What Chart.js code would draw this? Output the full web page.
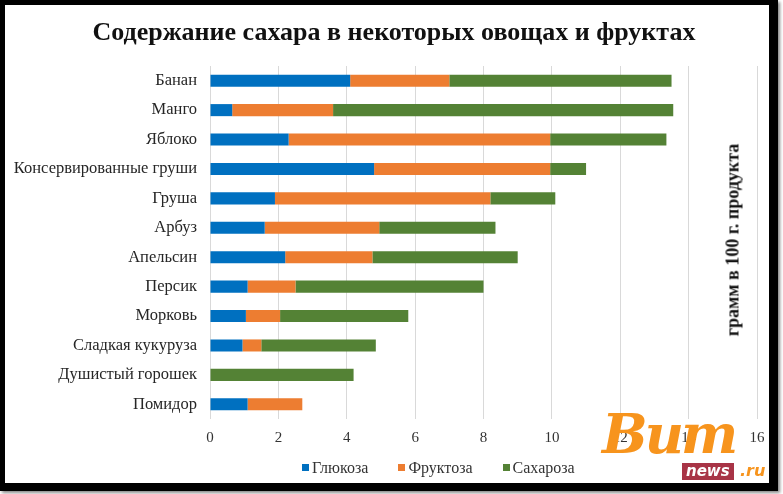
<!DOCTYPE html>
<html lang="ru">
<head>
<meta charset="utf-8">
<title>Содержание сахара</title>
<script src="https://cdn.jsdelivr.net/npm/chart.js@4.4.1/dist/chart.umd.min.js"></script>
<style>
  html, body { margin: 0; padding: 0; background: #fff; }
  .wrap { position: relative; width: 783px; height: 494px; overflow: hidden; background: #fff; }
  .wrap canvas { position: absolute; left: 0; top: 0; }
  .frame {
    position: absolute; left: 0; top: 0; width: 778px; height: 491px; box-sizing: border-box;
    border: 5px solid #000; border-right-width: 9px; border-bottom-width: 8px;
    box-shadow: 2px 2px 3px #888; pointer-events: none;
  }
  .title {
    position: absolute; left: 0; top: 17px; width: 788px; text-align: center;
    font: bold 26px 'Liberation Serif', serif; color: #111;
  }
  .ytitle {
    position: absolute; left: 733px; top: 240px; transform: translate(-50%, -50%) rotate(-90deg);
    white-space: nowrap; font: bold 18px 'Liberation Serif', serif; color: #111;
  }
  .legend {
    position: absolute; left: 302px; top: 459px; display: flex; gap: 30px;
    font: 16px 'Liberation Serif', serif; color: #333;
  }
  .legend span.box { display: inline-block; width: 7px; height: 7px; margin-right: 3px; vertical-align: 2px; }
  .logo { position: absolute; left: 600px; top: 396px; width: 150px; height: 90px; pointer-events: none; }
  .logo .bum { position: absolute; left: 2px; top: 6px; font: italic bold 54px 'DejaVu Serif', serif; color: #f7941d; letter-spacing: -3px; }
  .logo .news { position: absolute; left: 82px; top: 67px; background: #a83446; color: #fff; font: italic bold 15px 'DejaVu Sans', sans-serif; padding: 0 4px; line-height: 17px; }
  .logo .ru { position: absolute; left: 140px; top: 65px; color: #f7941d; font: italic bold 16px 'DejaVu Sans', sans-serif; }
</style>
</head>
<body>
<div class="wrap">
  <canvas id="sugarChart" width="783" height="494"></canvas>
  <div class="title">Содержание сахара в некоторых овощах и фруктах</div>
  <div class="ytitle">грамм в 100 г. продукта</div>
  <div class="legend" id="legend"></div>
  <div class="logo"><span class="bum">Bum</span><span class="news">news</span><span class="ru">.ru</span></div>
  <div class="frame"></div>
</div>
<script>
const categories = ['Банан', 'Манго', 'Яблоко', 'Консервированные груши', 'Груша', 'Арбуз',
  'Апельсин', 'Персик', 'Морковь', 'Сладкая кукуруза', 'Душистый горошек', 'Помидор'];
const glucose = [4.1, 0.65, 2.3, 4.8, 1.9, 1.6, 2.2, 1.1, 1.05, 0.95, 0, 1.1];
const fructose = [2.9, 2.95, 7.65, 5.15, 6.3, 3.35, 2.55, 1.4, 1.0, 0.55, 0, 1.6];
const sucrose = [6.5, 9.95, 3.4, 1.05, 1.9, 3.4, 4.25, 5.5, 3.75, 3.35, 4.2, 0];
const seriesNames = ['Глюкоза', 'Фруктоза', 'Сахароза'];
const seriesColors = ['#0070C0', '#ED7D31', '#548235'];
const xTicks = [0, 2, 4, 6, 8, 10, 12, 14, 16];

Chart.defaults.font.family = "'Liberation Serif', 'Times New Roman', serif";
Chart.defaults.color = '#333';

const datasets = [glucose, fructose, sucrose].map((values, i) => ({
  label: seriesNames[i],
  data: values,
  backgroundColor: seriesColors[i],
  borderWidth: 0,
  categoryPercentage: 0.5,
  barPercentage: 0.82
}));

const chart = new Chart(document.getElementById('sugarChart'), {
  type: 'bar',
  data: { labels: categories, datasets },
  options: {
    indexAxis: 'y',
    responsive: false,
    animation: false,
    layout: { padding: { top: 66, right: 26, bottom: 37, left: 0 } },
    scales: {
      x: {
        stacked: true,
        min: xTicks[0],
        max: xTicks[xTicks.length - 1],
        ticks: { stepSize: 2, padding: 10, font: { size: 15 }, color: '#333' },
        grid: { color: '#d9d9d9', drawTicks: false },
        border: { display: false }
      },
      y: {
        stacked: true,
        afterFit: (scale) => { scale.width = 210; },
        ticks: { padding: 13, font: { size: 16.5 }, color: '#262626' },
        grid: { display: false, drawTicks: false },
        border: { display: false }
      }
    },
    plugins: {
      legend: { display: false },
      title: { display: false },
      tooltip: { enabled: false }
    }
  }
});

// legend built from the same series arrays
const legendEl = document.getElementById('legend');
seriesNames.forEach((name, i) => {
  const item = document.createElement('div');
  item.innerHTML = `<span class="box" style="background:${seriesColors[i]}"></span>${name}`;
  legendEl.appendChild(item);
});
</script>
</body>
</html>
